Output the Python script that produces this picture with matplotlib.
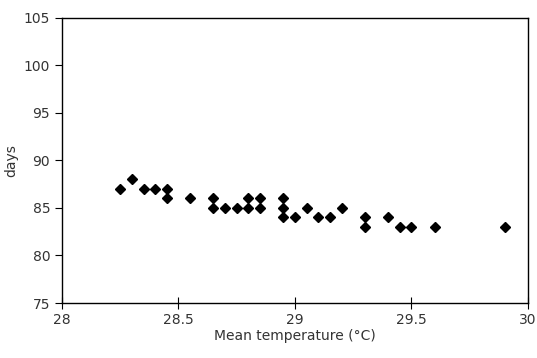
import matplotlib.pyplot as plt

# mean temperature (deg C) vs number of days
temp = [28.25, 28.3, 28.35, 28.4, 28.45, 28.45, 28.55, 28.65, 28.65, 28.7,
        28.75, 28.8, 28.8, 28.85, 28.85, 28.95, 28.95, 28.95, 29.0, 29.05,
        29.1, 29.15, 29.2, 29.3, 29.3, 29.4, 29.45, 29.5, 29.6, 29.9]
days = [87, 88, 87, 87, 87, 86, 86, 86, 85, 85,
        85, 86, 85, 86, 85, 86, 85, 84, 84, 85,
        84, 84, 85, 84, 83, 84, 83, 83, 83, 83]

xticks = [28, 28.5, 29, 29.5, 30]
xticklabels = ['28', '28.5', '29', '29.5', '30']
yticks = [75, 80, 85, 90, 95, 100, 105]

fig = plt.figure(figsize=(5.37, 3.58), dpi=100)
ax = fig.add_axes([0.1155, 0.1536, 0.8675, 0.7964])

ax.plot(temp, days, linestyle='none', marker='D', markersize=5.5, color='black')

ax.set_xlim(28, 30)
ax.set_ylim(75, 105)
ax.set_xticks(xticks)
ax.set_xticklabels(xticklabels)
ax.set_yticks(yticks)
ax.tick_params(axis='x', direction='inout', length=8, labelsize=10, labelcolor='#333333')
ax.tick_params(axis='y', direction='out', length=5, labelsize=10, labelcolor='#333333')

ax.set_xlabel('Mean temperature (°C)', fontsize=10, color='#333333', labelpad=1)
ax.set_ylabel('days', fontsize=10, color='#333333', labelpad=4)

for s in ax.spines.values():
    s.set_linewidth(1.0)

fig.savefig('out.png', dpi=100)
